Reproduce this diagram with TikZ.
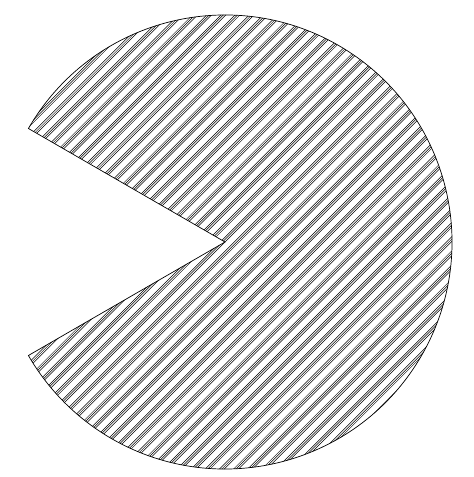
\documentclass[tikz,border=0pt]{standalone}
\begin{document}
\begin{tikzpicture}[x=1pt,y=1pt,
  hatch/.style={line width=0.5pt,black},
  outline/.style={line width=0.7pt,black}]
\useasboundingbox (0,0) rectangle (474,477);
\coordinate (c) at (225,235);
\begin{scope}[shift={(225,235)}]
  \clip (0,0) -- (150:227) arc[start angle=150,end angle=-150,radius=227] -- cycle;
  \foreach \d in {-340,-330,...,340}{
    \foreach \e in {0,1.7,3.4}{
      \draw[hatch] (135:{\d+\e}) ++(45:-340) -- ++(45:680);
    }}
\end{scope}
\draw[outline,shift={(225,235)}] (0,0) -- (150:227) arc[start angle=150,end angle=-150,radius=227] -- cycle;
\end{tikzpicture}
\end{document}
